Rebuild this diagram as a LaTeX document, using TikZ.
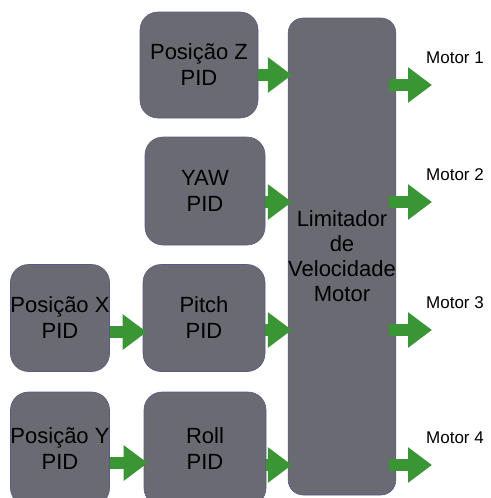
\documentclass[tikz,border=0pt]{standalone}
\usepackage{fontspec}
\setmainfont{Liberation Sans}
\usetikzlibrary{arrows.meta}
\definecolor{boxgray}{RGB}{106,106,114}
\definecolor{arrgreen}{RGB}{58,150,52}
\tikzset{
  pidbox/.style={draw=boxgray!85!blue, line width=0.6pt, fill=boxgray, rounded corners=18pt,
    align=center, inner sep=0pt, font=\fontsize{22}{26}\selectfont},
  flow/.style={arrgreen, line width=12pt, -{Triangle[width=34pt,length=24pt]}},
  motorlbl/.style={anchor=west, inner sep=0pt, font=\fontsize{17}{20}\selectfont}
}

\begin{document}
\begin{tikzpicture}[x=1pt, y=-1pt]
    \useasboundingbox (0,0) rectangle (490,498);
    \clip (0,0) rectangle (490,498);
    % controller boxes
    \node[pidbox, minimum width=118pt, minimum height=106pt] (posz) at (199,65) {Posição Z\\PID};
    \node[pidbox, minimum width=120pt, minimum height=108pt] (yaw) at (205,191) {YAW\\PID};
    \node[pidbox, minimum width=96pt, minimum height=107pt] (posx) at (60,318) {Posição X\\PID};
    \node[pidbox, minimum width=122pt, minimum height=107pt] (pitch) at (204,318) {Pitch\\PID};
    \node[pidbox, minimum width=96pt, minimum height=114pt] (posy) at (60,449) {Posição Y\\PID};
    \node[pidbox, minimum width=122pt, minimum height=114pt] (roll) at (205,449) {Roll\\PID};
    \node[pidbox, rounded corners=15pt, minimum width=106pt, minimum height=477pt,
          font=\fontsize{22}{25}\selectfont] (lim) at (342,256.5) {Limitador\\de\\Velocidade\\Motor};
    % green arrows between boxes
    \foreach \a/\b/\s in {posz/lim/10, yaw/lim/11, pitch/lim/12, roll/lim/16, posx/pitch/14, posy/roll/14} {
        \coordinate (s\a) at ([yshift=-\s pt]\a.east);
        \draw[flow, shorten >=-4pt] (s\a) -- (s\a -| \b.west);
    }
    % outputs
    \foreach \i/\y in {1/85, 2/202, 3/330, 4/465} {
        \coordinate (m\i) at (432,\y);
        \draw[flow, shorten <=-7pt] (lim.east |- m\i) -- (m\i);
        \node[motorlbl] (lbl\i) at (426,\y-27) {Motor \i};
    }
\end{tikzpicture}
\end{document}
